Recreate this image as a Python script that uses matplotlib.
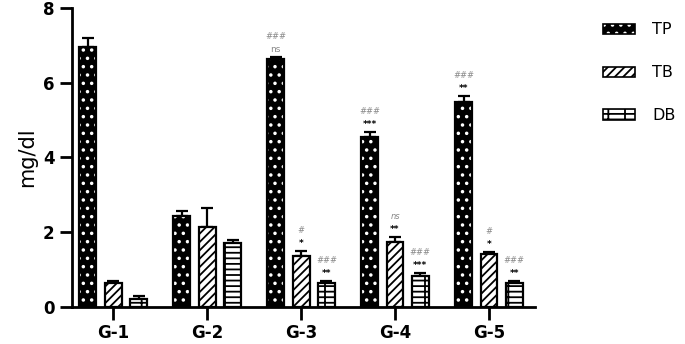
import numpy as np
import matplotlib.pyplot as plt
from matplotlib.patches import Patch

groups = ['G-1', 'G-2', 'G-3', 'G-4', 'G-5']
series = ['TP', 'TB', 'DB']
tp = [6.95, 2.43, 6.63, 4.55, 5.48]
tp_err = [0.24, 0.14, 0.06, 0.13, 0.16]
tb = [0.64, 2.14, 1.36, 1.74, 1.42]
tb_err = [0.06, 0.51, 0.14, 0.13, 0.06]
db = [0.21, 1.71, 0.64, 0.83, 0.64]
db_err = [0.09, 0.08, 0.06, 0.08, 0.06]

# significance marks: stars (lower row), hashes (upper row)
stars = {
    'TP': ['', '', 'ns', '***', '**'],
    'TB': ['', '', '*', '**', '*'],
    'DB': ['', '', '**', '***', '**'],
}
hashes = {
    'TP': ['', '', '###', '###', '###'],
    'TB': ['', '', '#', 'ns', '#'],
    'DB': ['', '', '###', '###', '###'],
}

plt.rcParams['hatch.linewidth'] = 1.3

fig = plt.figure(figsize=(6.85, 3.44), dpi=100)
ax = fig.add_axes([0.105, 0.108, 0.676, 0.869])

x = np.arange(len(groups))
w = 0.18
off = 0.27
styles = {
    'TP': dict(face='black', hc='white', hatch='..'),
    'TB': dict(face='white', hc='black', hatch='////'),
    'DB': dict(face='white', hc='black', hatch='---|'),
}
vals = {'TP': (tp, tp_err), 'TB': (tb, tb_err), 'DB': (db, db_err)}
handles = []
for i, s in enumerate(series):
    v, e = vals[s]
    st = styles[s]
    pos = x + (i - 1) * off
    ax.bar(pos, v, w, color=st['face'], edgecolor=st['hc'], hatch=st['hatch'],
           linewidth=0, zorder=2)
    ax.bar(pos, v, w, fill=False, edgecolor='black', linewidth=1.6, zorder=3)
    ax.errorbar(pos, v, yerr=[np.zeros(len(e)), e], fmt='none', ecolor='black',
                elinewidth=1.6, capsize=4, capthick=1.6, zorder=1)
    for j in range(len(groups)):
        top = v[j] + e[j]
        if stars[s][j]:
            col = '#888888' if stars[s][j] == 'ns' else 'black'
            ax.text(pos[j], top + 0.08, stars[s][j], ha='center', va='bottom',
                    fontsize=6.5, color=col, fontweight='bold' if col == 'black' else 'normal')
        if hashes[s][j]:
            col = '#888888'
            ax.text(pos[j], top + 0.42, hashes[s][j], ha='center', va='bottom',
                    fontsize=6, color=col, style='italic')
    handles.append((Patch(facecolor=st['face'], edgecolor=st['hc'], hatch=st['hatch'], linewidth=0),
                    Patch(fill=False, edgecolor='black', linewidth=1.2)))

ax.set_xlim(-0.44, 4.49)
ax.set_ylim(0, 8)
ax.set_yticks([0, 2, 4, 6, 8])
ax.set_xticks(x)
ax.set_xticklabels(groups, fontsize=12, fontweight='bold')
for lab in ax.get_yticklabels():
    lab.set_fontweight('bold')
    lab.set_fontsize(12)
ax.set_ylabel('mg/dl', fontsize=15)
for sp in ['top', 'right']:
    ax.spines[sp].set_visible(False)
for sp in ['left', 'bottom']:
    ax.spines[sp].set_linewidth(2)
ax.tick_params(axis='both', width=2, length=9)

ax.legend(handles, series, loc='upper left', bbox_to_anchor=(1.115, 1.0), frameon=False,
          fontsize=11.5, handlelength=2.0, handleheight=0.6, labelspacing=1.75,
          handletextpad=1.1)

fig.savefig('out.png', dpi=100)
